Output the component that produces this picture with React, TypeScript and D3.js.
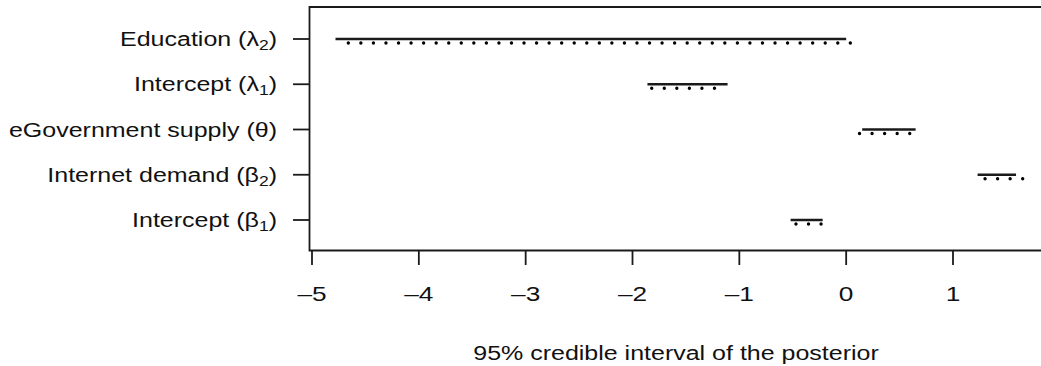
import React, { useEffect } from "react";
import * as d3 from "d3";

const paramNames = ["Intercept (", "Internet demand (", "eGovernment supply (", "Intercept (", "Education ("];
const paramSymbols = ["β", "β", "θ", "λ", "λ"];
const paramSubs = ["1", "2", "", "1", "2"];
const solidLow = [-0.52, 1.23, 0.15, -1.86, -4.78];
const solidHigh = [-0.22, 1.59, 0.65, -1.11, 0.0];
const dotLow = [-0.47, 1.3, 0.125, -1.82, -4.66];
const dotHigh = [-0.23, 1.67, 0.62, -1.2, 0.07];
const xTicks = [-5, -4, -3, -2, -1, 0, 1];
const xTitle = "95% credible interval of the posterior";

const W = 1041;
const H = 366;
const FONT = "'Liberation Sans', Arial, Helvetica, sans-serif";
const SX = 1.25;

export default function App() {
  useEffect(() => {
    document.body.style.margin = "0";
  }, []);
  const x = d3.scaleLinear().domain([-5, 1]).range([312, 953]);
  const y = d3.scaleLinear().domain([1, 5]).range([220, 39]);
  const boxL = 309.5, boxT = 7, boxB = 250.5;
  const idx = d3.range(paramNames.length);
  return (
    <svg width={W} height={H} style={{ display: "block" }} fontFamily={FONT}>
      <rect x={0} y={0} width={W} height={H} fill="#fff" />
      <path d={`M${W + 5},${boxT}H${boxL}V${boxB}H${W + 5}`} fill="none" stroke="#1a1a1a" strokeWidth={1.8} />
      {idx.map((i) => (
        <g key={i}>
          <line x1={293} x2={boxL} y1={y(i + 1)} y2={y(i + 1)} stroke="#1a1a1a" strokeWidth={1.8} />
          <text
            transform={`translate(277,${y(i + 1) + 7}) scale(${SX},1)`}
            textAnchor="end"
            fontSize={20}
            fill="#111"
          >
            {paramNames[i]}
            {paramSymbols[i]}
            {paramSubs[i] ? (
              <tspan fontSize={14} dy={4}>{paramSubs[i]}</tspan>
            ) : null}
            <tspan dy={paramSubs[i] ? -4 : 0}>)</tspan>
          </text>
          <line
            x1={x(solidLow[i])}
            x2={x(solidHigh[i])}
            y1={y(i + 1)}
            y2={y(i + 1)}
            stroke="#1a1a1a"
            strokeWidth={2.3}
          />
          <line
            x1={x(dotLow[i])}
            x2={x(dotHigh[i])}
            y1={y(i + 1) + 4}
            y2={y(i + 1) + 4}
            stroke="#000"
            strokeWidth={3.4}
            strokeLinecap="round"
            strokeDasharray="0 12.55"
          />
        </g>
      ))}
      {xTicks.map((t) => (
        <g key={t}>
          <line x1={x(t)} x2={x(t)} y1={boxB} y2={265} stroke="#1a1a1a" strokeWidth={1.8} />
          <text
            transform={`translate(${x(t)},${301}) scale(${SX},1)`}
            textAnchor="middle"
            fontSize={21}
            fill="#111"
          >
            {t < 0 ? `\u2013${Math.abs(t)}` : `${t}`}
          </text>
        </g>
      ))}
      <text
        transform={`translate(676,360) scale(${SX},1)`}
        textAnchor="middle"
        fontSize={20}
        fill="#111"
      >
        {xTitle}
      </text>
    </svg>
  );
}
